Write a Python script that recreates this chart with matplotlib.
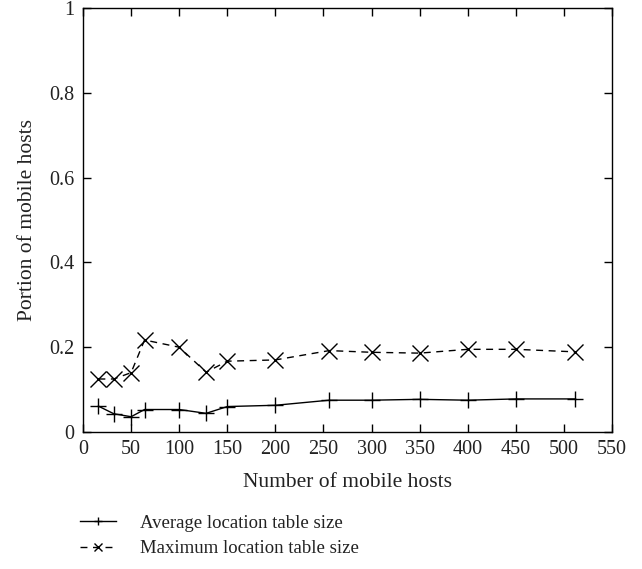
import matplotlib.pyplot as plt

plt.rcParams['font.family'] = ['Liberation Serif', 'DejaVu Serif']

hosts = [16, 32, 50, 64, 100, 128, 150, 200, 256, 300, 350, 400, 450, 512]
avg_size = [0.061, 0.043, 0.036, 0.053, 0.053, 0.044, 0.060, 0.063, 0.075,
            0.075, 0.077, 0.075, 0.078, 0.078]
max_size = [0.125, 0.125, 0.140, 0.217, 0.200, 0.141, 0.167, 0.170, 0.192,
            0.188, 0.186, 0.195, 0.195, 0.189]

txt = '#222222'

fig = plt.figure(figsize=(6.42, 5.69), dpi=100)
ax = fig.add_axes([0.1293, 0.2408, 0.824, 0.745])

ax.plot(hosts, avg_size, color='black', lw=1, marker='+', ms=11, mew=1,
        label='Average location table size')
ax.plot(hosts, max_size, color='black', lw=1, ls=(0, (5, 4)), marker='x',
        ms=11, mew=1, label='Maximum location table size')

ax.set_xlim(0, 550)
ax.set_ylim(0, 1)
ax.set_xticks(range(0, 551, 50))
ax.set_yticks([0, 0.2, 0.4, 0.6, 0.8, 1])
ax.set_yticklabels(['0', '0.2', '0.4', '0.6', '0.8', '1'])
ax.tick_params(direction='in', top=True, right=True, length=6, labelsize=14.5,
               width=1, labelcolor=txt, pad=6)
for s in ax.spines.values():
    s.set_linewidth(1)

ax.set_xlabel('Number of mobile hosts', fontsize=15.5, labelpad=10, color=txt)
ax.set_ylabel('Portion of mobile hosts', fontsize=15.5, labelpad=9, color=txt)

leg = fig.legend(loc='upper left', bbox_to_anchor=(0.099, 0.125), frameon=False,
                 fontsize=13.5, handlelength=1.9, markerscale=0.5,
                 labelspacing=0.45, handletextpad=1.3)
for t in leg.get_texts():
    t.set_color(txt)

fig.savefig('out.png', dpi=100)
